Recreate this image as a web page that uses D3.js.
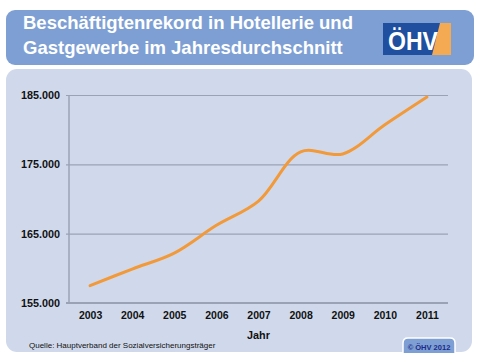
<!DOCTYPE html>
<html>
<head>
<meta charset="utf-8">
<script src="https://cdn.jsdelivr.net/npm/d3@7"></script>
<style>
html,body{margin:0;padding:0;background:#fff;}
svg{display:block;font-family:"Liberation Sans",Arial,Helvetica,sans-serif;}
</style>
</head>
<body>
<svg id="chart" width="480" height="360"></svg>
<script>
const titleLines = ["Beschäftigtenrekord in Hotellerie und", "Gastgewerbe im Jahresdurchschnitt"];
const years = ["2003","2004","2005","2006","2007","2008","2009","2010","2011"];
const employees = [157500, 159900, 162200, 166200, 169700, 176800, 176500, 180700, 184700];
const yTicks = [155000, 165000, 175000, 185000];
const xTitle = "Jahr";
const source = "Quelle: Hauptverband der Sozialversicherungsträger";
const copyright = "© ÖHV 2012";
const logoText = "ÖHV";

(function () {
const svg = d3.select("#chart");
const de = d3.formatLocale({decimal: ",", thousands: ".", grouping: [3], currency: ["", "€"]});
const fmt = de.format(",d");

// title bar
svg.append("rect").attr("x", 6).attr("y", 10).attr("width", 468).attr("height", 55)
  .attr("rx", 9).attr("fill", "#7e9fd4");
svg.append("g").selectAll("text").data(titleLines).join("text")
  .attr("x", 23).attr("y", (d, i) => 29 + i * 25)
  .attr("fill", "#fff").attr("font-weight", "bold").attr("font-size", 18.5)
  .text(d => d);

// logo
const logo = svg.append("g");
logo.append("rect").attr("x", 383).attr("y", 23).attr("width", 58).attr("height", 32).attr("fill", "#1f4f9e");
logo.append("path").attr("d", "M440,23 L451,23 L451,55 L432,55 Z").attr("fill", "#f4aa52");
logo.append("text").attr("x", 388).attr("y", 50).attr("fill", "#fff").attr("font-weight", "bold")
  .attr("font-size", 25).attr("textLength", 50).attr("lengthAdjust", "spacingAndGlyphs").text(logoText);

// panel
svg.append("rect").attr("x", 6).attr("y", 69).attr("width", 466).attr("height", 283)
  .attr("rx", 11).attr("fill", "#d0d9eb");

const mLeft = 69, mRight = 448, mTop = 95, mBottom = 303;
const x = d3.scalePoint().domain(years).range([mLeft, mRight]).padding(0.5);
const y = d3.scaleLinear().domain([155000, 185000]).range([mBottom, mTop]);

// grid / y axis
const yAxis = svg.append("g").attr("transform", `translate(${mLeft},0)`)
  .call(d3.axisLeft(y).tickValues(yTicks).tickSize(3).tickFormat(fmt));
yAxis.select(".domain").remove();
yAxis.selectAll(".tick line").attr("x1", -3).attr("x2", mRight - mLeft).attr("stroke", "#9aa3b6").attr("stroke-width", 1.2);
yAxis.selectAll(".tick text").attr("x", -9).attr("dy", "0.32em").attr("font-size", 10.8)
  .attr("font-weight", "bold").attr("fill", "#111").attr("font-family", "Liberation Sans, Arial, sans-serif");

svg.append("line").attr("x1", mLeft).attr("x2", mLeft).attr("y1", mTop).attr("y2", mBottom)
  .attr("stroke", "#9aa3b6").attr("stroke-width", 1.5);

// x axis
const xAxis = svg.append("g").attr("transform", `translate(0,${mBottom})`)
  .call(d3.axisBottom(x).tickSize(0).tickPadding(9));
xAxis.select(".domain").attr("d", `M${mLeft - 3},0H${mRight}`).attr("stroke", "#9aa3b6").attr("stroke-width", 2);
xAxis.selectAll(".tick text").attr("font-size", 10.5).attr("font-weight", "bold").attr("fill", "#111")
  .attr("font-family", "Liberation Sans, Arial, sans-serif");

svg.append("text").attr("x", x("2007")).attr("y", 339).attr("text-anchor", "middle")
  .attr("font-size", 10.8).attr("font-weight", "bold").attr("fill", "#111").text(xTitle);

// line
const line = d3.line().x((d, i) => x(years[i])).y(d => y(d)).curve(d3.curveCatmullRom.alpha(0.5));
svg.append("path").datum(employees).attr("d", line).attr("fill", "none")
  .attr("stroke", "#f29a3a").attr("stroke-width", 3).attr("stroke-linecap", "round");

// source
svg.append("text").attr("x", 29).attr("y", 348).attr("font-size", 8).attr("fill", "#111").text(source);

// copyright badge
svg.append("path").attr("d", "M403,353 L403,343 Q403,338 408,338 L450,338 Q455,338 455,343 L455,353")
  .attr("fill", "#7e9fd4").attr("stroke", "#fff").attr("stroke-width", 1.5);
svg.append("text").attr("x", 429).attr("y", 349.5).attr("text-anchor", "middle").attr("font-size", 7.5)
  .attr("font-weight", "bold").attr("fill", "#1b2a86").text(copyright);
})();
</script>
</body>
</html>
